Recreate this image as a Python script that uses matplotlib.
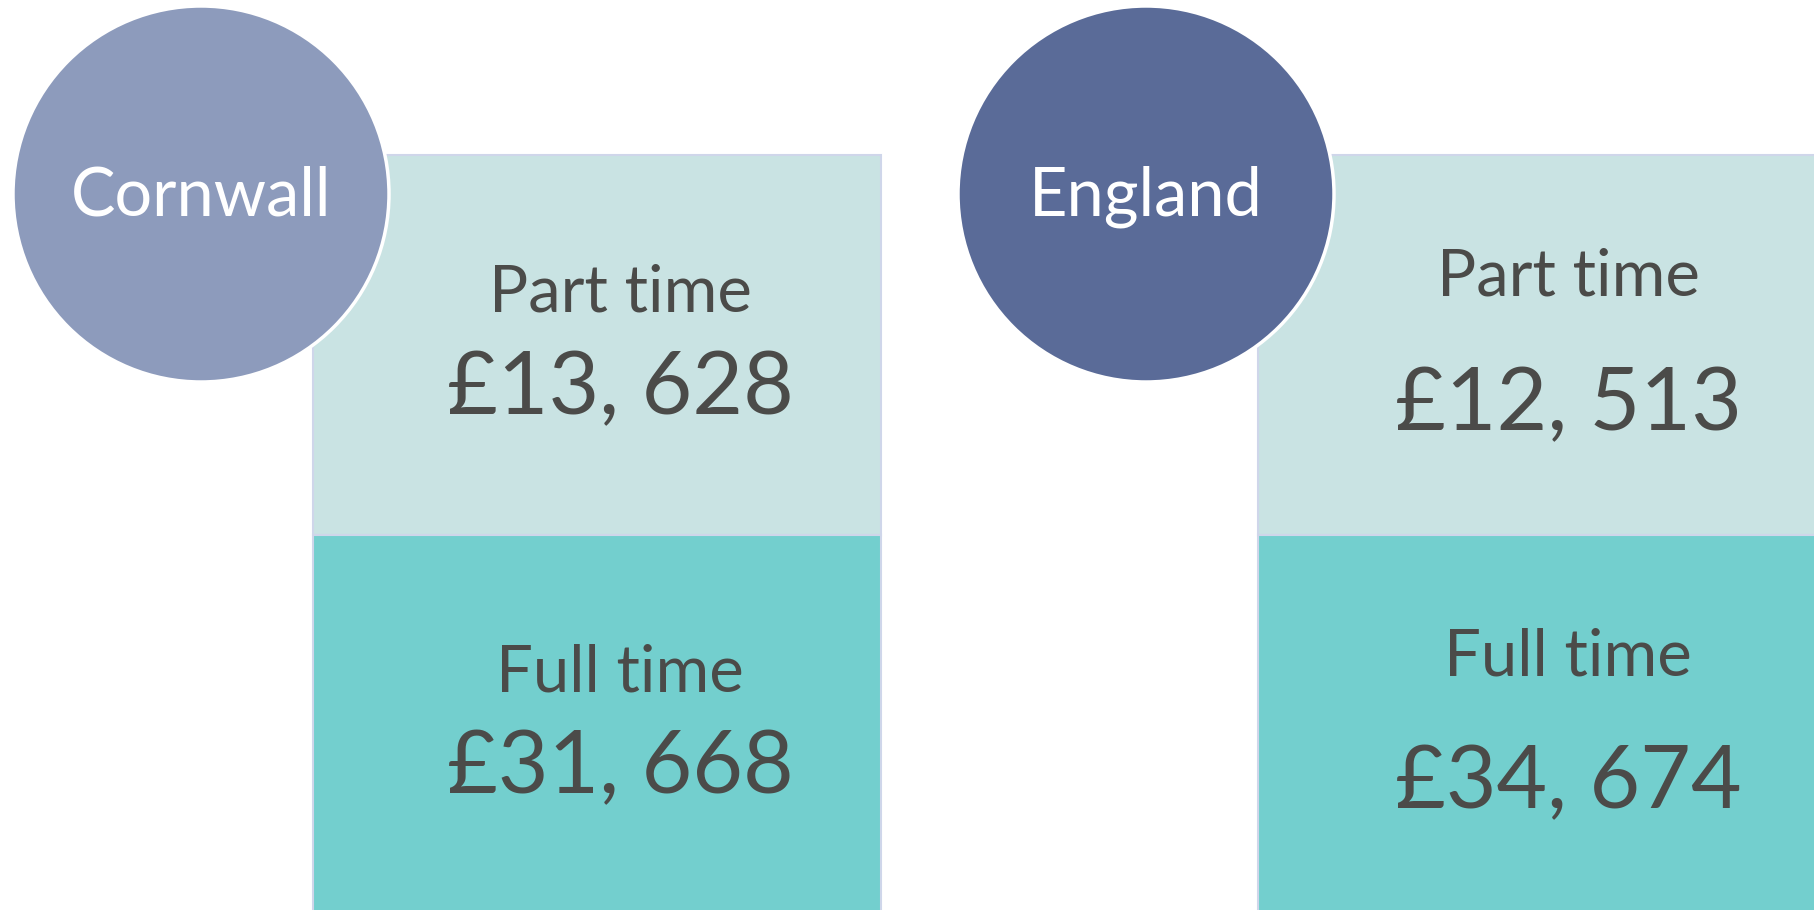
import matplotlib
matplotlib.use("Agg")
import matplotlib.pyplot as plt
from matplotlib.patches import Circle, Rectangle

# ---- data ----
regions = ["Cornwall", "England"]
part_time_pay = [13628, 12513]
full_time_pay = [31668, 34674]
part_label = "Part time"
full_label = "Full time"

# ---- style / layout ----
circle_colors = ["#8D9BBC", "#5A6B98"]
light_box = "#C9E3E3"
dark_box = "#73CFCE"
box_edge = "#CFD6EA"
text_color = "#4B4B49"
font = "Lato"

W, H = 1814, 910
fig = plt.figure(figsize=(W / 100, H / 100), dpi=100)
ax = fig.add_axes([0, 0, 1, 1])
ax.set_xlim(0, W)
ax.set_ylim(H, 0)
ax.set_aspect("equal")
ax.axis("off")

circle_cx = [201, 1146]
circle_cy = 194
radius = 188
box_left = [313, 1258]
box_w = 568
box_top = 155
box_split = 535
text_cx = [620, 1568]
baselines = [
    (311, 414, 691, 793),
    (296, 430, 676, 808),
]


def fmt(v):
    return "£" + f"{v:,}".replace(",", ", ")


for i, name in enumerate(regions):
    x0 = box_left[i]
    ax.add_patch(Rectangle((x0, box_top), box_w, box_split - box_top,
                           facecolor=light_box, edgecolor=box_edge, lw=1.5, zorder=1))
    ax.add_patch(Rectangle((x0, box_split), box_w, H + 20 - box_split,
                           facecolor=dark_box, edgecolor=box_edge, lw=1.5, zorder=1))
    ax.add_patch(Circle((circle_cx[i], circle_cy), radius,
                        facecolor=circle_colors[i], edgecolor="white", lw=2.5, zorder=3))
    ax.text(circle_cx[i], circle_cy + 22, name, ha="center", va="baseline",
            fontsize=48, color="white", family=font, zorder=4)
    b = baselines[i]
    ax.text(text_cx[i], b[0], part_label, ha="center", va="baseline",
            fontsize=47, color=text_color, family=font, zorder=2)
    ax.text(text_cx[i], b[1], fmt(part_time_pay[i]), ha="center", va="baseline",
            fontsize=63, color=text_color, family=font, zorder=2)
    ax.text(text_cx[i], b[2], full_label, ha="center", va="baseline",
            fontsize=47, color=text_color, family=font, zorder=2)
    ax.text(text_cx[i], b[3], fmt(full_time_pay[i]), ha="center", va="baseline",
            fontsize=63, color=text_color, family=font, zorder=2)

fig.savefig("out.png", dpi=100, facecolor="white")
